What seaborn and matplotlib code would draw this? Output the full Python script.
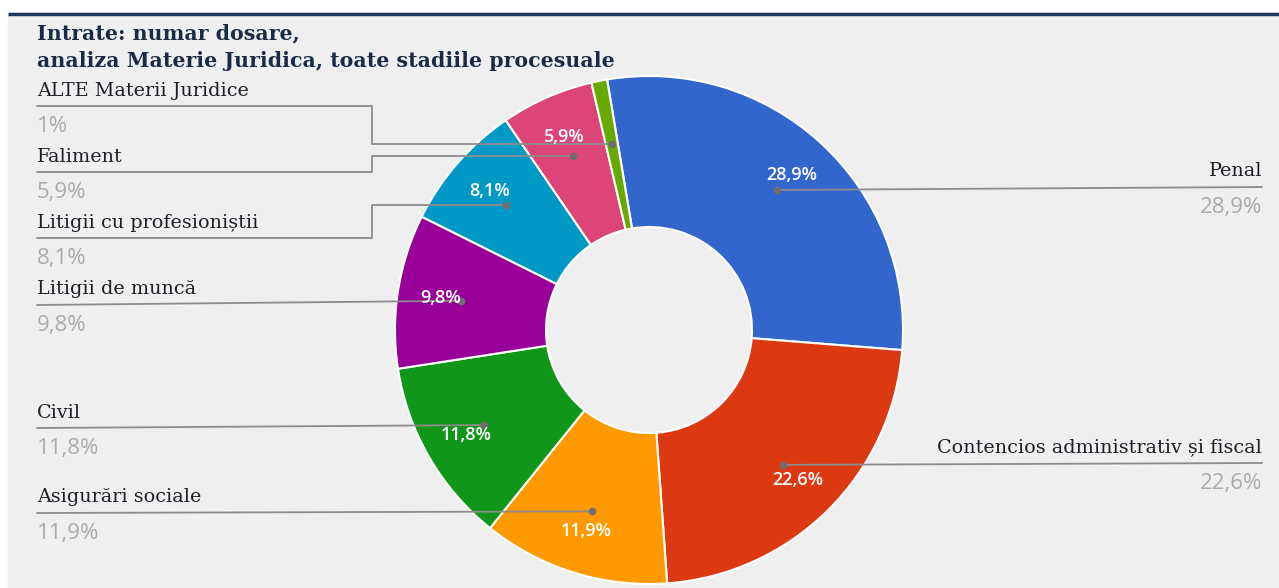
import matplotlib.pyplot as plt
import numpy as np
import seaborn as sns
from matplotlib.patches import Rectangle

# date
categorii = ['Penal', 'Contencios administrativ și fiscal', 'Asigurări sociale', 'Civil',
             'Litigii de muncă', 'Litigii cu profesioniștii', 'Faliment', 'ALTE Materii Juridice']
procente = [28.9, 22.6, 11.9, 11.8, 9.8, 8.1, 5.9, 1.0]
culori = ['#3366cc', '#dc3912', '#ff9900', '#109618', '#990099', '#0099c6', '#dd4477', '#66aa00']
titlu = ['Intrate: numar dosare,', 'analiza Materie Juridica, toate stadiile procesuale']

# pozitia liniei de eticheta (px de sus) si partea
linie_y = [187, 463, 513, 428, 305, 238, 172, 106]
parte = ['dr', 'dr', 'st', 'st', 'st', 'st', 'st', 'st']

W, H = 1279, 588
CX, CY, R, LAT = 649, H - 330, 254, 151


def fmt(p):
    return ('%g' % round(p, 1)).replace('.', ',') + '%'


sns.set_theme(style='white')
plt.rcParams['font.family'] = ['DejaVu Serif']

fig = plt.figure(figsize=(W / 100, H / 100), dpi=100, facecolor='white')
ax = fig.add_axes([0, 0, 1, 1])

ax.add_patch(Rectangle((8, 0), W - 8, H - 16, color='#efefef', zorder=0))
ax.plot([8, W], [H - 14, H - 14], color='#1d3a63', lw=2.5, zorder=1, solid_capstyle='butt')

wedges, _, pct = ax.pie(procente, colors=culori, startangle=99.5, counterclock=False,
                        radius=R, center=(CX, CY), pctdistance=0.83,
                        autopct=lambda p: fmt(p) if p >= 2 else '',
                        wedgeprops=dict(width=LAT, edgecolor='white', linewidth=1.5),
                        textprops=dict(color='white', fontsize=13, family='Open Sans',
                                       fontweight='semibold'))
for t in pct:
    t.set_zorder(6)

ax.set_xlim(0, W)
ax.set_ylim(0, H)
ax.set_aspect('equal')
ax.axis('off')

gri_linie = '#8c8c8c'
for w, nume, v, ly, p in zip(wedges, categorii, procente, linie_y, parte):
    mid = np.deg2rad((w.theta1 + w.theta2) / 2)
    dx = CX + 190 * np.cos(mid)
    dy = CY + 190 * np.sin(mid)
    Y = H - ly
    if p == 'st':
        if abs(dy - Y) < 10:
            xs, ys = [37, dx], [Y, dy]
        else:
            xs, ys = [37, 372, 372, dx], [Y, Y, dy, dy]
        xt, ha = 37, 'left'
    else:
        xs, ys = [dx, 1262], [dy, Y]
        xt, ha = 1262, 'right'
    ax.plot(xs, ys, color=gri_linie, lw=1.3, zorder=5)
    ax.plot(dx, dy, 'o', ms=4.5, color='#6e6e6e', zorder=5)
    ax.text(xt, Y + 10.5, nume, ha=ha, va='baseline', fontsize=13.8, color='#1e1e28', zorder=6)
    ax.text(xt, Y - 26, fmt(v), ha=ha, va='baseline', fontsize=16, color='#ababab',
            family='Open Sans', zorder=6)

ax.text(37, H - 39, titlu[0], fontsize=14.8, fontweight='bold', color='#1a2b47', va='baseline')
ax.text(37, H - 67, titlu[1], fontsize=14.8, fontweight='bold', color='#1a2b47', va='baseline')

fig.savefig('out.png', dpi=100, facecolor='white')
